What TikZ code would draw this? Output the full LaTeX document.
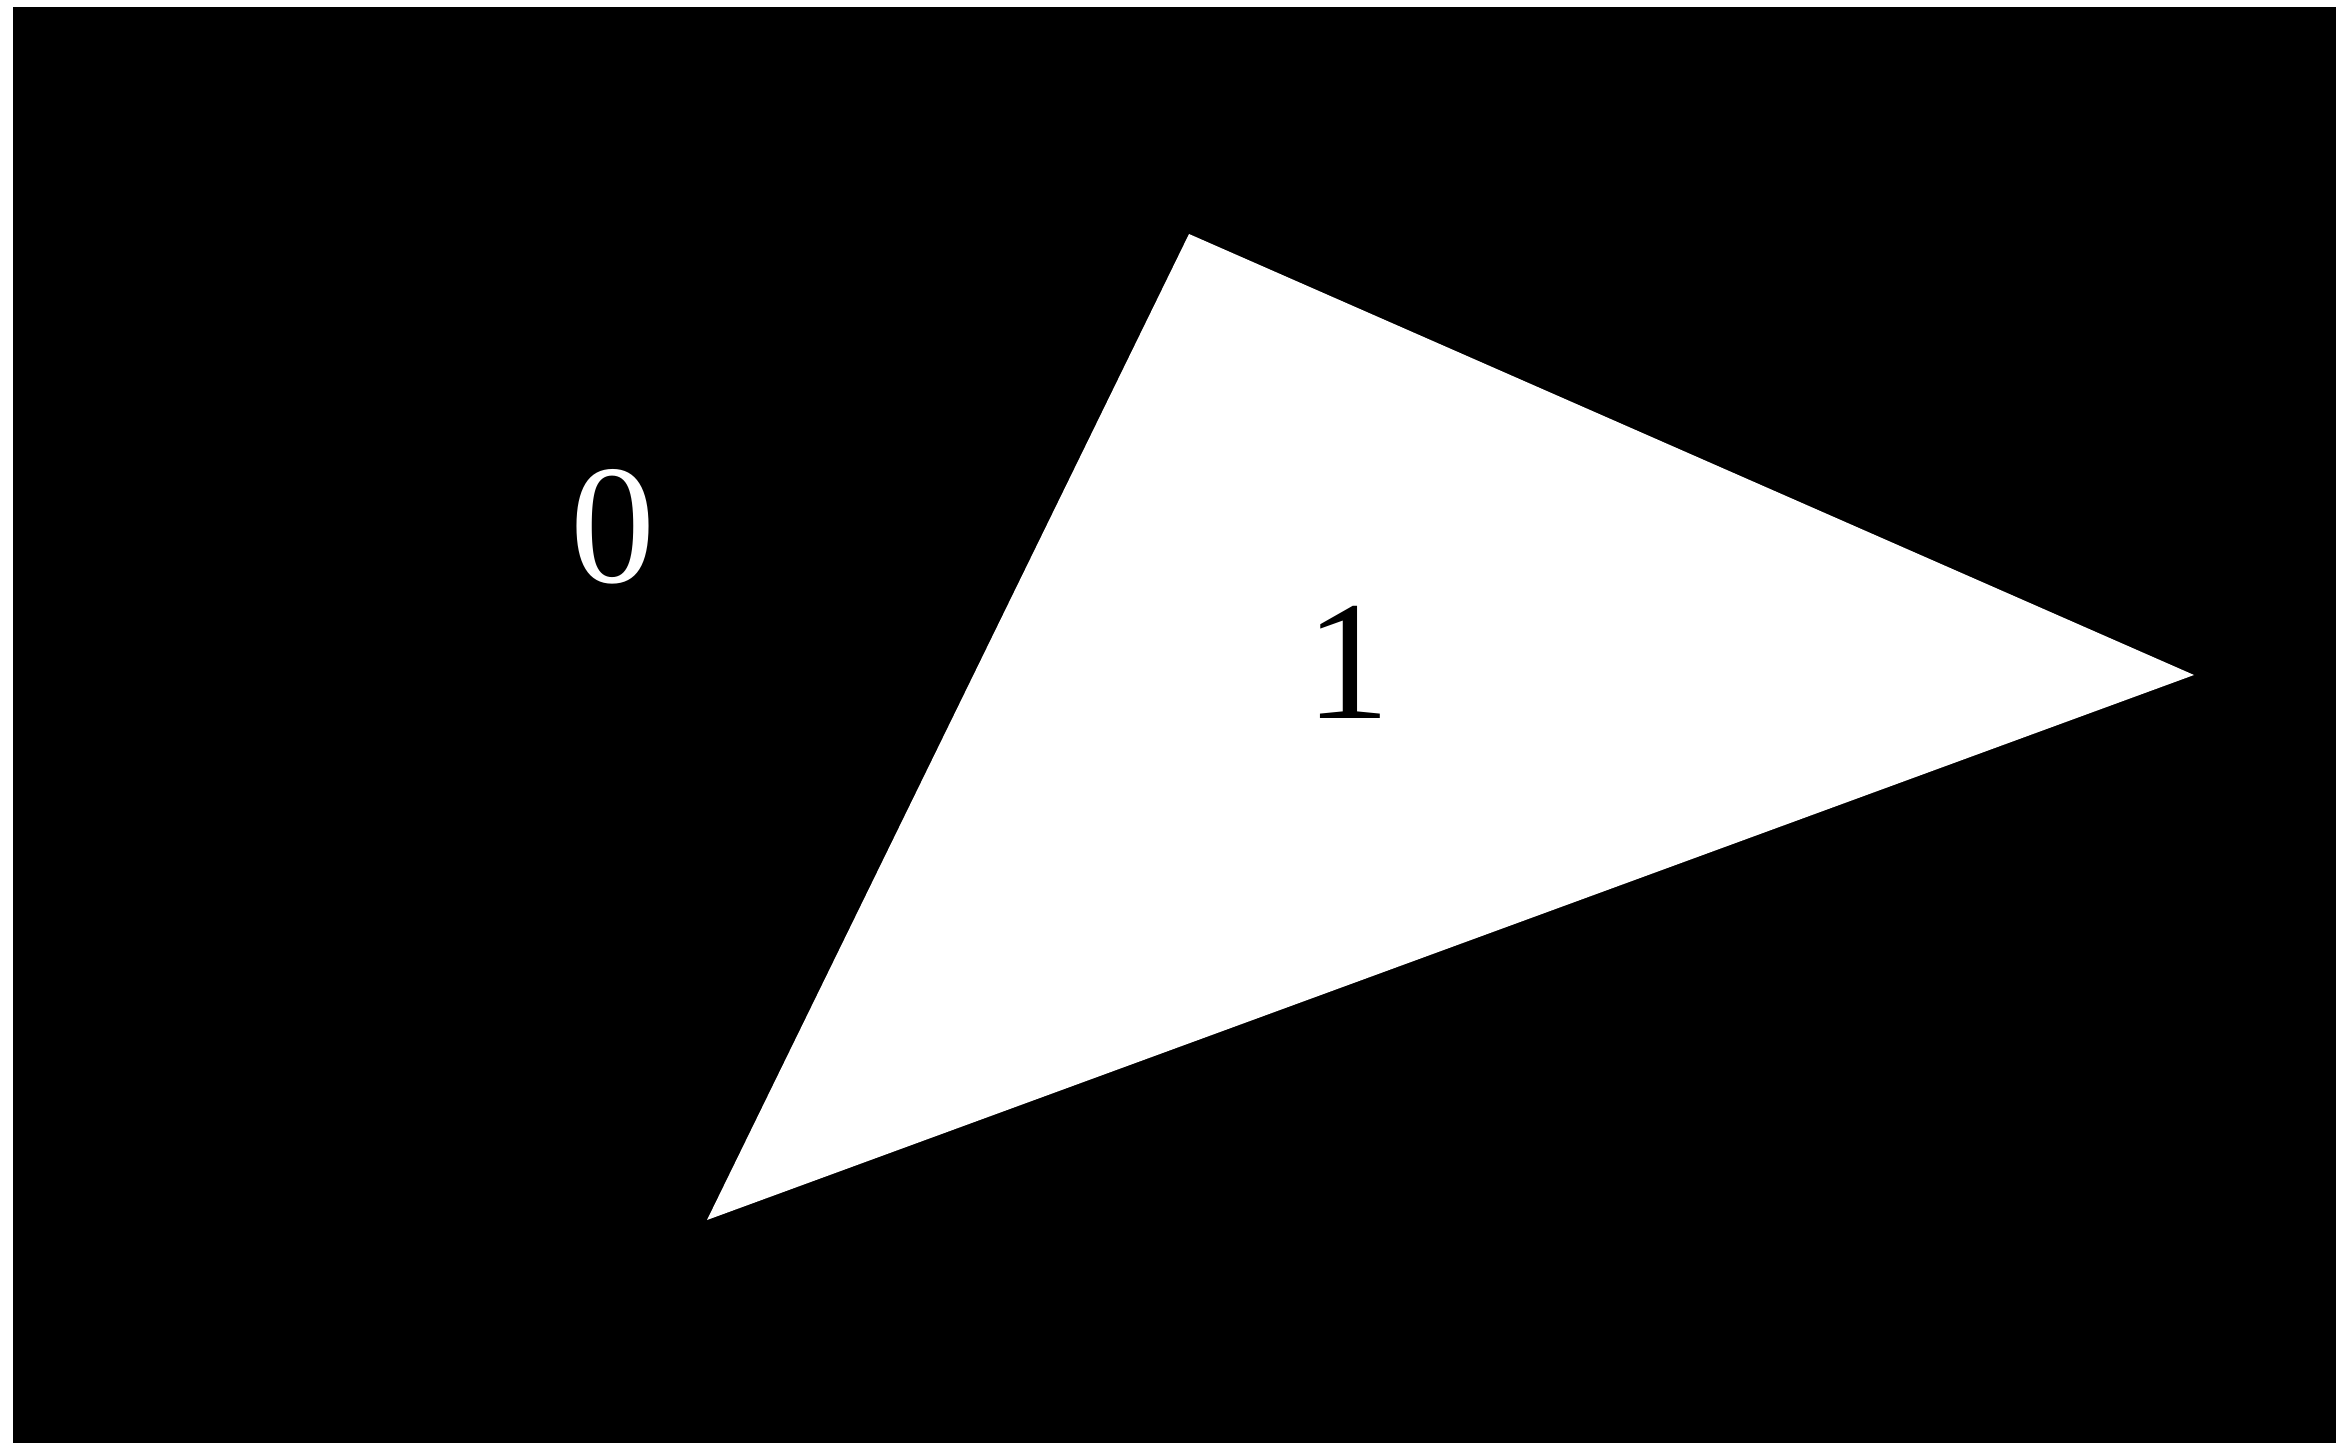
\documentclass[tikz,border=0pt]{standalone}
\usepackage{fontspec}
\setmainfont{Liberation Serif}
\begin{document}
\begin{tikzpicture}[x=0.5pt,y=-0.5pt,
  lbl/.style={inner sep=0pt,font=\fontsize{85}{90}\selectfont}]
\useasboundingbox (0,0) rectangle (2336,1443);
\fill[white] (0,0) rectangle (2336,1443);
\fill[black] (13,7) rectangle (2336,1443);
\coordinate (A) at (1189,234);
\coordinate (B) at (2194,675);
\coordinate (C) at (707,1220);
\fill[white] (A) -- (B) -- (C) -- cycle;
\node[lbl,text=white] (zero) at (613,527) {0};
\node[lbl,text=black] (one) at (1348,662) {1};
\end{tikzpicture}
\end{document}
